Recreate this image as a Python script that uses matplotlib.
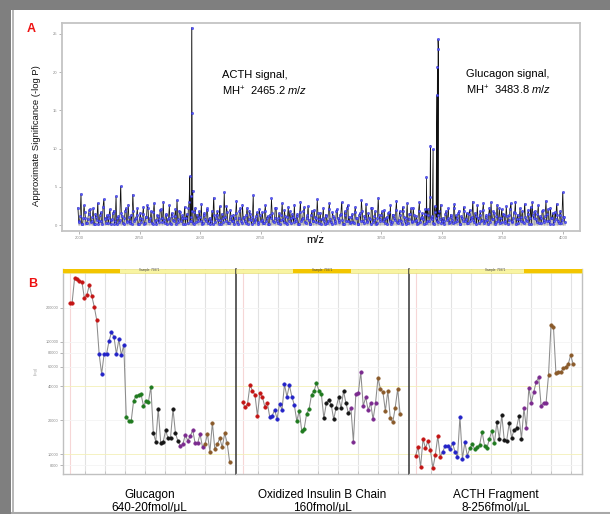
import numpy as np
import matplotlib
matplotlib.use('Agg')
import matplotlib.pyplot as plt
from matplotlib.patches import Rectangle
from matplotlib.lines import Line2D

plt.rcParams['font.family'] = ['Liberation Sans', 'DejaVu Sans']
plt.rcParams['mathtext.fontset'] = 'custom'
plt.rcParams['mathtext.rm'] = 'Liberation Sans'
plt.rcParams['mathtext.it'] = 'Liberation Sans:italic'

# ---------------- Panel A data ----------------
noise_sig = [
    2.3, 0.4, 4.1, 0.2, 2.6, 0.9, 0.3, 1.5, 2.1, 0.6, 2.2, 0.1, 1.1, 2.9, 0.5, 1.7, 0.2, 3.4, 0.8, 1.3,
    0.3, 2.1, 0.7, 1.6, 0.2, 3.8, 0.9, 0.4, 5.1, 1.2, 0.1, 1.9, 0.6, 2.7, 0.3, 1.4, 4.0, 0.5, 1.0, 2.2,
    0.2, 1.6, 0.8, 2.4, 0.3, 1.1, 2.2, 0.6, 1.8, 0.2, 2.9, 0.7, 1.3, 0.4, 2.0, 0.9, 3.1, 0.3, 1.5, 0.8,
    2.6, 0.2, 1.2, 0.5, 2.1, 3.3, 0.4, 1.7, 0.9, 0.2, 2.4, 1.0, 0.3, 3.0, 0.6, 1.9, 0.2, 2.3, 1.4, 0.5,
    1.1, 2.8, 0.3, 1.6, 0.5, 2.2, 0.8, 0.2, 1.9, 3.6, 0.4, 1.3, 0.7, 2.5, 0.1, 1.0, 4.3, 0.6, 1.7, 0.3,
    2.0, 0.5, 1.4, 0.9, 3.2, 0.2, 1.8, 0.6, 2.7, 1.1, 0.3, 2.3, 0.8, 1.5, 0.2, 3.9, 0.7, 1.2, 0.4, 2.1,
    0.6, 1.7, 0.3, 2.6, 1.0, 0.2, 1.4, 3.5, 0.5, 0.9, 2.2, 0.3, 1.6, 0.7, 2.9, 0.4, 1.2, 0.2, 2.4, 1.8,
    0.3, 1.1, 2.7, 0.5, 1.5, 0.2, 3.1, 0.8, 1.9, 0.4, 1.0, 2.5, 0.2, 1.3, 0.6, 2.0, 0.9, 3.4, 0.3, 1.6,
    0.8, 2.3, 0.2, 1.2, 0.6, 2.9, 0.4, 1.7, 1.0, 0.3, 2.1, 0.7, 1.4, 3.0, 0.2, 1.8, 0.5, 2.6, 1.1, 0.4,
    1.5, 0.3, 2.4, 0.9, 0.2, 1.6, 3.3, 0.6, 1.2, 2.8, 0.4, 1.0, 0.2, 2.2, 0.7, 1.9, 0.3, 3.6, 0.8, 1.4,
    0.5, 2.0, 0.9, 0.2, 1.7, 2.6, 0.4, 1.3, 0.7, 3.2, 0.3, 1.8, 0.6, 2.4, 1.1, 0.2, 2.9, 0.8, 1.5, 0.4,
    2.3, 0.6, 1.2, 0.3, 3.0, 0.9, 1.6, 0.2, 2.1, 0.5, 1.4, 3.7, 0.8, 0.3, 2.5, 1.0, 0.4, 1.8, 2.7, 0.6,
    0.2, 1.5, 0.7, 2.2, 0.4, 1.1, 0.3, 2.8, 1.3, 0.5, 1.9, 0.2, 1.0, 2.4, 0.6, 1.6, 0.3, 2.0, 0.9, 3.1,
    0.4, 1.2, 2.6, 0.3, 1.8, 0.7, 2.9, 0.5, 1.4, 0.2, 2.3, 3.0, 0.8, 1.6, 0.4, 2.7, 1.0, 0.3, 2.1, 1.5,
    0.6, 2.5, 0.2, 1.3, 2.9, 0.5, 1.7, 3.1, 0.8, 0.3, 2.2, 1.1, 0.4, 2.8, 0.7, 1.5, 0.2, 2.4, 3.0, 0.9,
    1.9, 0.4, 2.6, 1.2, 0.3, 2.0, 0.7, 3.2, 1.5, 0.5, 2.3, 0.9, 0.2, 1.7, 2.8, 0.6, 1.4, 0.3, 4.3, 1.1,
]
noise_sig_b = [
    0.6, 1.2, 0.1, 0.9, 1.7, 0.3, 0.8, 2.0, 0.4, 1.1, 0.2, 1.5, 0.7, 0.1, 1.3, 0.5, 2.4, 0.9, 0.3, 1.0,
    1.4, 0.2, 0.8, 1.9, 0.5, 0.1, 1.2, 0.7, 1.6, 0.3, 0.9, 2.2, 0.4, 1.1, 0.6, 0.2, 1.8, 0.8, 1.3, 0.1,
    0.9, 0.4, 1.5, 0.2, 1.1, 2.6, 0.5, 1.0, 0.3, 1.7, 0.6, 0.1, 1.2, 0.8, 2.1, 0.4, 0.7, 1.4, 0.2, 1.0,
    0.3, 1.6, 0.7, 1.2, 0.1, 0.8, 1.9, 0.5, 1.3, 0.9, 0.2, 1.5, 2.3, 0.6, 1.1, 0.3, 1.7, 0.4, 0.9, 1.8,
    0.5, 0.2, 1.4, 0.8, 2.0, 0.3, 1.0, 0.6, 0.1, 1.3, 0.9, 1.8, 0.2, 0.7, 1.5, 0.4, 1.1, 2.5, 0.3, 0.8,
    1.2, 0.6, 0.1, 1.6, 0.4, 0.9, 2.2, 0.3, 1.0, 0.5, 1.4, 0.2, 1.9, 0.7, 1.1, 0.4, 0.8, 1.7, 0.2, 1.3,
    0.7, 0.3, 1.8, 0.5, 1.2, 0.1, 0.9, 1.6, 0.4, 2.3, 0.6, 1.0, 0.2, 1.4, 0.8, 2.0, 0.3, 1.1, 0.5, 0.9,
    1.5, 0.4, 0.8, 1.2, 0.2, 1.7, 0.6, 1.0, 2.4, 0.3, 1.3, 0.7, 0.1, 1.9, 0.5, 1.1, 0.4, 1.6, 0.8, 0.2,
    1.0, 0.6, 1.4, 0.3, 2.1, 0.8, 0.2, 1.2, 0.5, 1.8, 0.9, 0.4, 1.5, 0.7, 0.1, 1.3, 2.2, 0.6, 0.3, 1.1,
    0.4, 1.7, 0.9, 0.2, 1.3, 0.6, 1.9, 0.3, 1.0, 0.5, 1.6, 0.8, 2.3, 0.4, 1.2, 0.2, 0.9, 1.4, 0.6, 1.8,
    0.8, 0.3, 1.1, 1.6, 0.5, 0.2, 1.4, 0.9, 2.0, 0.4, 0.7, 1.3, 0.2, 1.8, 0.6, 1.0, 0.3, 1.5, 2.2, 0.5,
    1.3, 0.7, 0.2, 1.9, 0.4, 1.1, 0.8, 1.5, 0.3, 2.1, 0.6, 0.9, 1.2, 0.2, 1.7, 0.5, 1.4, 0.8, 0.3, 1.0,
    0.5, 1.8, 1.0, 0.3, 1.4, 0.7, 2.2, 0.4, 0.9, 1.6, 0.2, 1.2, 0.6, 1.9, 0.8, 0.3, 1.5, 0.5, 1.1, 0.7,
    1.6, 0.2, 0.9, 1.3, 0.6, 2.0, 0.3, 1.1, 0.7, 1.5, 0.4, 0.8, 1.8, 0.2, 1.2, 0.5, 2.3, 0.9, 0.4, 1.4,
    0.3, 1.2, 0.7, 2.1, 0.4, 1.0, 1.6, 0.2, 1.4, 0.8, 0.5, 1.9, 0.3, 1.1, 0.6, 2.0, 0.9, 0.2, 1.3, 1.7,
    0.8, 1.5, 0.3, 0.9, 1.8, 0.4, 1.2, 0.6, 2.1, 0.2, 1.0, 1.6, 0.5, 0.8, 1.3, 0.3, 1.9, 0.7, 1.1, 0.4,
]
noise_mz_start, noise_mz_end = 1995, 4005
peak_mz = [2457.0, 2461.0, 2465.2, 2466.2, 2469.0,
           3436.0, 3452.0, 3463.0, 3478.0, 3481.0, 3483.8, 3485.0]
peak_sig = [6.4, 3.8, 25.8, 14.6, 4.5,
            6.3, 10.4, 9.9, 17.0, 20.7, 24.3, 23.0]
a_xticks = [2000, 2250, 2500, 2750, 3000, 3250, 3500, 3750, 4000]
a_xticklabels = ['2000', '2250', '2500', '2750', '', '3250', '3500', '3750', '4000']
a_yticks = [0, 5, 10, 15, 20, 25]

# ---------------- Panel B data ----------------
group_colors = ['#c41414', '#2323c8', '#1f7a1f', '#151515', '#7b2a8f', '#8a5a2a']
glucagon_counts = [12, 11, 11, 11, 10, 11]
glucagon_vals = [
    219000, 221600, 364600, 357000, 347000, 338000, 242000, 259000, 318000, 254000, 204000, 155600,
    77200, 51600, 77500, 77500, 101200, 121000, 110600, 77500, 104800, 75600, 93800,
    21560, 19880, 19640, 29900, 33100, 33800, 34100, 27000, 29500, 29100, 39800,
    15560, 12940, 25400, 12680, 12860, 16340, 13880, 14040, 25240, 15360, 13120,
    11920, 12280, 14920, 13220, 14440, 16440, 12520, 12520, 15140, 11540,
    12280, 15140, 10560, 19080, 11080, 12280, 13880, 11540, 15360, 12680, 8600,
]
insulin_counts = [11, 11, 11, 11, 11, 10]
insulin_vals = [
    28940, 26140, 28140, 41480, 36460, 33800, 22020, 34800, 32460, 26460, 28700,
    21560, 22020, 24740, 20700, 28140, 24740, 41820, 32460, 40960, 32460, 27400,
    19760, 24380, 16200, 16880, 22940, 25240, 33800, 36460, 42680, 36680, 34100,
    20880, 28360, 30540, 27400, 20460, 25940, 32060, 25620, 36460, 28360, 23120,
    25620, 12940, 34300, 34800, 53760, 26840, 32060, 24740, 28360, 20460, 28360,
    47840, 37760, 35720, 24240, 36680, 20880, 19240, 25940, 38000, 22660,
]
acth_counts = [11, 11, 11, 11, 10, 11]
acth_vals = [
    9724, 11690, 7672, 13680, 11310, 13120, 10920, 7516, 9860, 14540, 9526,
    10560, 11850, 11850, 11150, 12520, 10560, 9410, 21560, 9088, 12780, 9724,
    11310, 12340, 11150, 11540, 12090, 15870, 11920, 11450, 13760, 16200, 12520,
    19240, 13680, 22340, 13400, 13220, 18850, 14040, 16440, 17230, 21880, 13680,
    25620, 17020, 39020, 28700, 35720, 44100, 48240, 26840, 28700, 28700,
    50560, 140460, 135640, 53000, 53440, 53440, 58000, 59920, 62920, 76100, 63320,
]
b_yticks = [8000, 10000, 20000, 40000, 60000, 80000, 100000, 200000]
b_titles = ['Glucagon\n640-20fmol/\u03bcL',
            'Oxidized Insulin B Chain\n160fmol/\u03bcL',
            'ACTH Fragment\n8-256fmol/\u03bcL']
header_text = 'Sample: 75871'

# ---------------- figure ----------------
W, H = 610, 514
fig = plt.figure(figsize=(6.1, 5.14), dpi=100)
fig.patch.set_facecolor('white')


def fx(px):
    return px / W


def fy(py):
    return 1 - py / H


# gray frame
fig.patches.append(Rectangle((0, fy(10)), 1, 10 / H, transform=fig.transFigure,
                             facecolor='#7f7f7f', edgecolor='none', zorder=0))
fig.patches.append(Rectangle((0, 0), fx(10.5), 1, transform=fig.transFigure,
                             facecolor='#7f7f7f', edgecolor='none', zorder=0))
fig.patches.append(Rectangle((fx(11.5), 0), fx(2.5), fy(10), transform=fig.transFigure,
                             facecolor='#b8b8b8', edgecolor='none', zorder=0))
fig.lines.append(Line2D([fx(12), 1], [fy(512.5), fy(512.5)], transform=fig.transFigure,
                        color='#a8a8a8', lw=1.5))

# ---------------- Panel A ----------------
axA = fig.add_axes([fx(62), fy(231), fx(580 - 62), (231 - 23) / H])
noise_mz = np.linspace(noise_mz_start, noise_mz_end, len(noise_sig))
half_step = (noise_mz_end - noise_mz_start) / (len(noise_sig) - 1) / 2
noise_mz_b = np.linspace(noise_mz_start, noise_mz_end, len(noise_sig_b)) + half_step
mz = np.concatenate([noise_mz, noise_mz_b, peak_mz])
sig = np.concatenate([noise_sig, noise_sig_b, peak_sig])
order = np.argsort(mz)
mz, sig = mz[order], sig[order]
axA.vlines(mz, 0, sig, color='#a8a8a8', lw=0.5, zorder=1)
axA.plot(mz, sig, color='#111111', lw=0.5, zorder=2)
axA.plot(mz, sig, ls='none', marker='o', ms=1.7, mfc='#5a5aff', mec='#2424c8',
         mew=0.3, zorder=3)
axA.set_xlim(1929.5, 4070.5)
axA.set_ylim(-0.75, 26.4)
axA.set_xticks(a_xticks)
axA.set_xticklabels(a_xticklabels, fontsize=3, color='#888888')
axA.set_yticks(a_yticks)
axA.set_yticklabels([str(t) for t in a_yticks], fontsize=3, color='#888888')
axA.tick_params(length=2, width=0.5, color='#999999', pad=1.5)
for s in axA.spines.values():
    s.set_color('#c4c4c4')
    s.set_linewidth(1.3)

fig.text(fx(37), fy(136), 'Approximate Significance (-log P)', rotation=90,
         fontsize=6.8, ha='center', va='center', color='#111111')
fig.text(fx(315), fy(240), 'm/z', fontsize=8, ha='center', va='center',
         bbox=dict(facecolor='white', edgecolor='none', pad=1.5))
fig.text(fx(31), fy(29), 'A', fontsize=9, color='#ee1111', fontweight='bold',
         ha='center', va='center')
fig.text(fx(222), fy(75), 'ACTH signal,', fontsize=8, ha='left', va='center')
fig.text(fx(222), fy(91), 'MH$^{+}$  2465.2 $m/z$', fontsize=8, ha='left', va='center')
fig.text(fx(466), fy(74), 'Glucagon signal,', fontsize=8, ha='left', va='center')
fig.text(fx(466), fy(90), 'MH$^{+}$  3483.8 $m/z$', fontsize=8, ha='left', va='center')

# ---------------- Panel B ----------------
fig.text(fx(33), fy(284), 'B', fontsize=9, color='#ee1111', fontweight='bold',
         ha='center', va='center')
fig.text(fx(36), fy(371), '(log)', rotation=90, fontsize=3, color='#999999',
         ha='center', va='center')

x0s = [63, 236, 409]
sub_w = 173
b_top, b_bot = 268.5, 474
gold_spans = [(0.0, 0.33), (0.33, 0.665), (0.665, 1.0)]
datasets = [(glucagon_vals, glucagon_counts), (insulin_vals, insulin_counts),
            (acth_vals, acth_counts)]
grid_pos = np.arange(6.2, 66, 8.13)
hdr_h = 4.0 / (b_bot - b_top)

for k, (x0, (vals, counts)) in enumerate(zip(x0s, datasets)):
    ax = fig.add_axes([fx(x0), fy(b_bot), fx(sub_w), (b_bot - b_top) / H])
    ax.set_yscale('log')
    ax.set_ylim(6690, 445400)
    ax.set_xlim(-2.7, 67.6)
    idx = np.arange(len(vals))
    for g in grid_pos:
        ax.axvline(g, color='#e2e2e2', lw=0.8, zorder=0)
    ax.axvline(0, color='#f6d6d6', lw=0.8, zorder=0)
    for t in b_yticks:
        col = '#f4f0b8' if t in (10000, 40000) else '#f4f4f4'
        ax.axhline(t, color=col, lw=0.6, zorder=0)
    ax.plot(idx, vals, color='#8c8c8c', lw=0.75, zorder=2)
    start = 0
    for c, n in zip(group_colors, counts):
        ax.plot(idx[start:start + n], vals[start:start + n], ls='none', marker='o',
                ms=2.6, mfc=c, mec=c, mew=0.3, zorder=3)
        start += n
    ax.add_patch(Rectangle((0, 1 - hdr_h), 1, hdr_h, transform=ax.transAxes,
                           facecolor='#f8f4a2', edgecolor='#e2d870', lw=0.4,
                           zorder=5, clip_on=False))
    g0, g1 = gold_spans[k]
    ax.add_patch(Rectangle((g0, 1 - hdr_h), g1 - g0, hdr_h, transform=ax.transAxes,
                           facecolor='#f3c500', edgecolor='none', zorder=6,
                           clip_on=False))
    ax.text(0.5, 1 - hdr_h / 2, header_text, transform=ax.transAxes, fontsize=2.2,
            ha='center', va='center', color='#444444', zorder=7)
    ax.set_xticks(grid_pos)
    ax.set_xticklabels([])
    ax.tick_params(axis='x', length=2, width=0.5, color='#bbbbbb', direction='in')
    if k == 0:
        ax.set_yticks(b_yticks)
        ax.set_yticklabels([str(t) for t in b_yticks], fontsize=2.8, color='#888888')
        ax.tick_params(axis='y', length=2, width=0.5, color='#999999', pad=1.5)
    else:
        ax.set_yticks([])
        ax.tick_params(axis='y', length=0)
    ax.minorticks_off()
    for name, s in ax.spines.items():
        s.set_color('#c0c0c0')
        s.set_linewidth(1.0)
    ax.spines['top'].set_visible(False)
    if k > 0:
        ax.spines['left'].set_color('#333333')
        ax.spines['left'].set_linewidth(1.1)
    if k < 2:
        ax.spines['right'].set_visible(False)
    ax.text(0.5, -0.075, b_titles[k], transform=ax.transAxes, fontsize=8.5,
            ha='center', va='top', linespacing=1.1)

fig.savefig('out.png', dpi=100, facecolor='white')
